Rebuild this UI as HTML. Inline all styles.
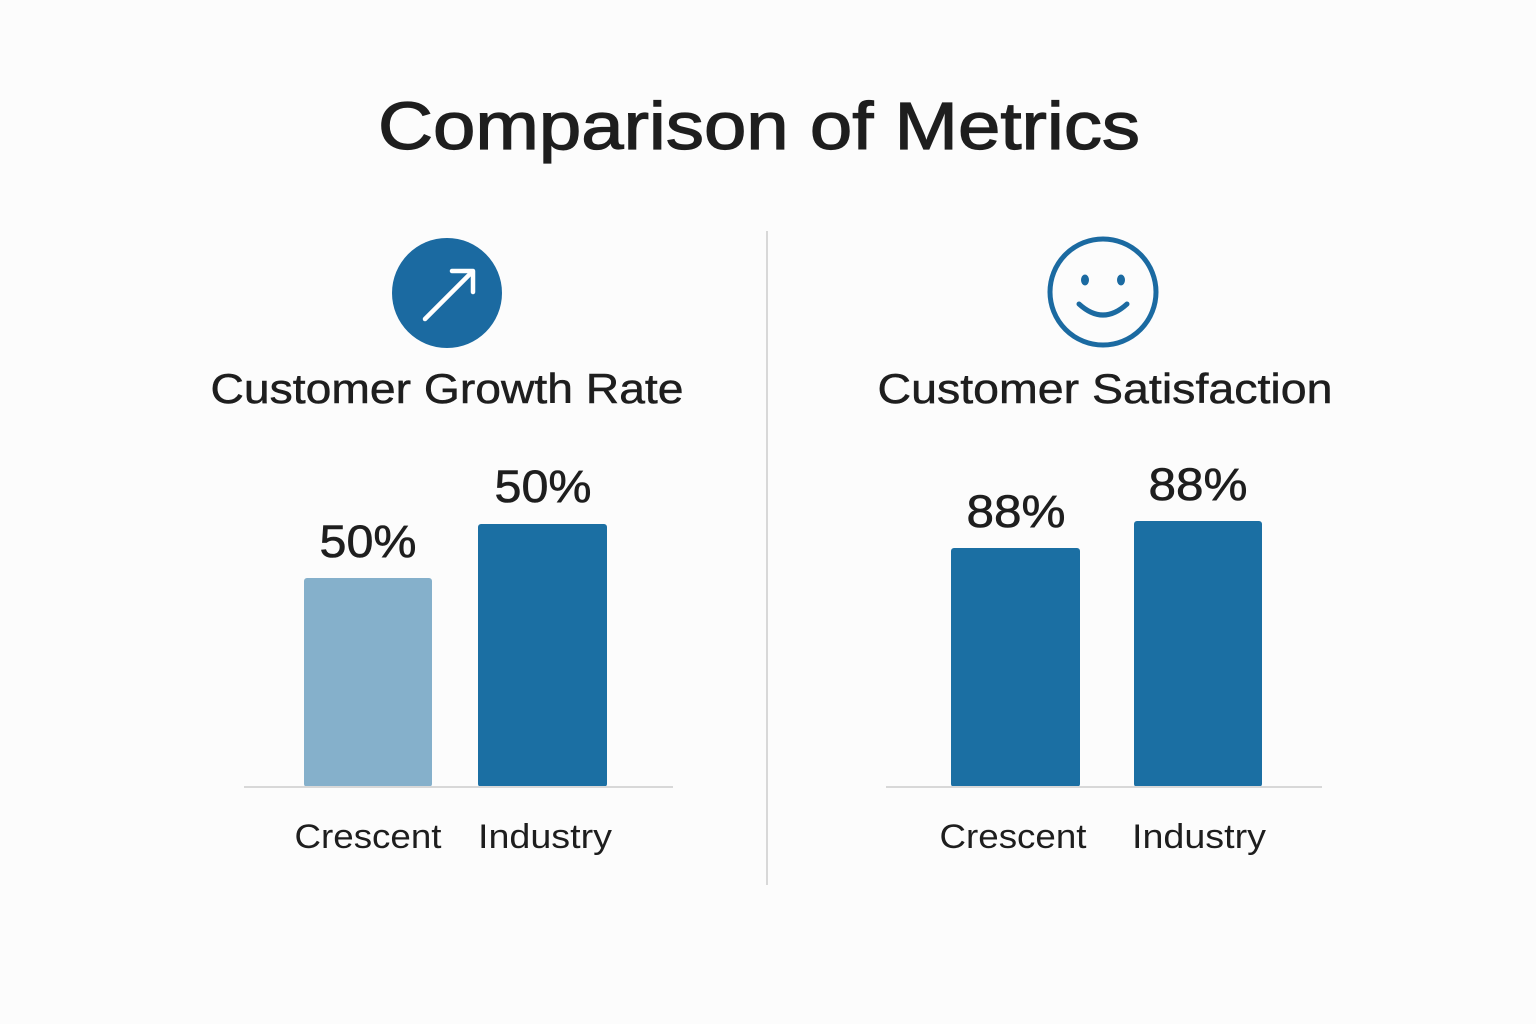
<!DOCTYPE html>
<html><head><meta charset="utf-8"><style>
html,body{margin:0;padding:0;background:#fcfcfc;}
svg{display:block;}
text{font-family:"Liberation Sans","DejaVu Sans",sans-serif;fill:#1e1e1e;}
</style></head><body>
<svg width="1536" height="1024" viewBox="0 0 1536 1024" xmlns="http://www.w3.org/2000/svg">
<rect width="1536" height="1024" fill="#fcfcfc"/>
<text x="759" y="149" font-size="67" text-anchor="middle" stroke="#1e1e1e" stroke-width="1.2" textLength="762" lengthAdjust="spacingAndGlyphs">Comparison of Metrics</text>
<line x1="767" y1="231" x2="767" y2="885" stroke="#d8d8d8" stroke-width="2"/>
<circle cx="447" cy="293" r="55" fill="#1b6aa1"/>
<line x1="425" y1="319" x2="472" y2="272" stroke="#fff" stroke-width="4.5" stroke-linecap="round"/>
<polyline points="452,271 473,271 473,292" fill="none" stroke="#fff" stroke-width="4.5" stroke-linecap="round" stroke-linejoin="round"/>
<circle cx="1103" cy="292" r="53" fill="none" stroke="#1b6aa1" stroke-width="5"/>
<ellipse cx="1085" cy="280" rx="4" ry="5.5" fill="#1b6aa1"/>
<ellipse cx="1121" cy="280" rx="4" ry="5.5" fill="#1b6aa1"/>
<path d="M1079 304 Q1103 326 1127 304" fill="none" stroke="#1b6aa1" stroke-width="5" stroke-linecap="round"/>
<text x="447" y="403" font-size="42" text-anchor="middle" stroke="#1e1e1e" stroke-width="0.5" textLength="473" lengthAdjust="spacingAndGlyphs">Customer Growth Rate</text>
<text x="1105" y="403" font-size="42" text-anchor="middle" stroke="#1e1e1e" stroke-width="0.5" textLength="455" lengthAdjust="spacingAndGlyphs">Customer Satisfaction</text>
<rect x="304" y="578" width="128" height="209" rx="3" fill="#85b0cb"/>
<rect x="478" y="524" width="129" height="263" rx="3" fill="#1b6fa3"/>
<line x1="244" y1="787" x2="673" y2="787" stroke="#d8d8d8" stroke-width="2"/>
<text x="368" y="557" font-size="45" text-anchor="middle" stroke="#1e1e1e" stroke-width="0.6" textLength="97" lengthAdjust="spacingAndGlyphs">50%</text>
<text x="543" y="502" font-size="45" text-anchor="middle" stroke="#1e1e1e" stroke-width="0.6" textLength="97" lengthAdjust="spacingAndGlyphs">50%</text>
<text x="368" y="848" font-size="34" text-anchor="middle" textLength="147" lengthAdjust="spacingAndGlyphs">Crescent</text>
<text x="545" y="848" font-size="34" text-anchor="middle" textLength="134" lengthAdjust="spacingAndGlyphs">Industry</text>
<rect x="951" y="548" width="129" height="239" rx="3" fill="#1b6fa3"/>
<rect x="1134" y="521" width="128" height="266" rx="3" fill="#1b6fa3"/>
<line x1="886" y1="787" x2="1322" y2="787" stroke="#d8d8d8" stroke-width="2"/>
<text x="1016" y="527" font-size="45" text-anchor="middle" stroke="#1e1e1e" stroke-width="0.6" textLength="99" lengthAdjust="spacingAndGlyphs">88%</text>
<text x="1198" y="500" font-size="45" text-anchor="middle" stroke="#1e1e1e" stroke-width="0.6" textLength="99" lengthAdjust="spacingAndGlyphs">88%</text>
<text x="1013" y="848" font-size="34" text-anchor="middle" textLength="147" lengthAdjust="spacingAndGlyphs">Crescent</text>
<text x="1199" y="848" font-size="34" text-anchor="middle" textLength="134" lengthAdjust="spacingAndGlyphs">Industry</text>
</svg>
</body></html>
